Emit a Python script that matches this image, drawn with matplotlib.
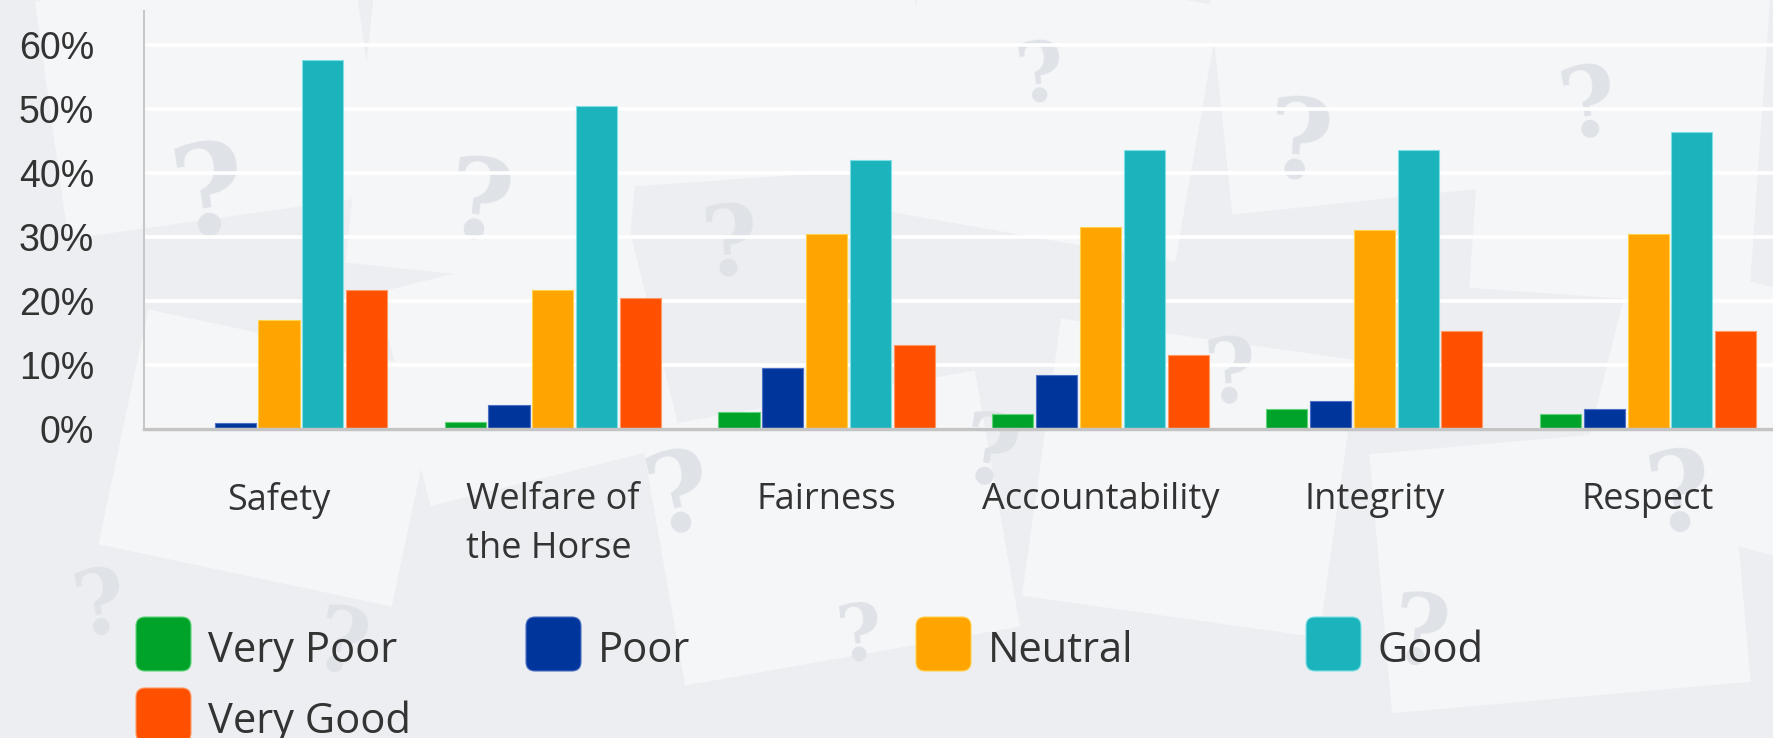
import matplotlib
matplotlib.use("Agg")
import matplotlib.pyplot as plt
from matplotlib.patches import FancyBboxPatch, Rectangle
import matplotlib.transforms as mtransforms
import numpy as np

# data (percent of respondents)
categories = ["Safety", "Welfare of\nthe Horse", "Fairness", "Accountability", "Integrity", "Respect"]
series = ["Very Poor", "Poor", "Neutral", "Good", "Very Good"]
very_poor = [0.0, 1.1, 2.7, 2.3, 3.2, 2.3]
poor = [1.0, 3.7, 9.5, 8.4, 4.4, 3.2]
neutral = [17.0, 21.7, 30.4, 31.6, 31.1, 30.4]
good = [57.7, 50.5, 42.1, 43.6, 43.6, 46.4]
very_good = [21.7, 20.5, 13.2, 11.6, 15.3, 15.3]
yticks = [0, 10, 20, 30, 40, 50, 60]

values = [very_poor, poor, neutral, good, very_good]
colors = ["#00a32a", "#00369b", "#ffa400", "#1bb3bc", "#ff5000"]
edges = ["#5fd47a", "#4d6fc4", "#ffd24d", "#7fe0e6", "#ff9a66"]

W, H = 17.73, 7.38
fig = plt.figure(figsize=(W, H), dpi=100)
fig.patch.set_facecolor("#eceef1")

# background: paper sheets and question marks (decoration)
sheets = [(0.5, 5.2, 3.2, 2.4, 8), (3.6, 4.6, 2.8, 2.9, -6), (5.8, 5.6, 3.4, 2.0, 4),
          (9.0, 5.0, 3.0, 2.6, -10), (12.2, 5.4, 3.3, 2.2, 6), (14.8, 4.4, 2.8, 3.2, -4),
          (1.2, 1.6, 3.0, 2.4, -12), (6.6, 0.8, 3.4, 2.6, 10), (10.4, 1.2, 3.0, 2.8, -8),
          (13.8, 0.4, 3.6, 2.6, 5), (4.0, 2.6, 2.6, 2.2, 14), (16.0, 2.0, 2.4, 2.6, -14)]
for sx, sy, sw, sh, ang in sheets:
    tr = mtransforms.Affine2D().rotate_deg_around(sx + sw / 2, sy + sh / 2, ang) + fig.dpi_scale_trans
    fig.patches.append(Rectangle((sx, sy), sw, sh, facecolor="#f5f6f8", edgecolor="none",
                                 transform=tr, zorder=-3))
qmarks = [(2.1, 5.4, 90, 8), (4.8, 5.3, 80, -6), (7.3, 4.9, 70, 4), (13.0, 5.9, 80, -4),
          (15.9, 6.3, 70, 10), (10.4, 6.6, 60, 6), (6.8, 2.4, 80, 12),
          (9.9, 2.8, 70, -8), (12.3, 3.6, 64, 4), (14.2, 1.0, 70, -6), (16.8, 2.4, 80, 8),
          (3.4, 0.9, 64, -12), (8.6, 1.0, 56, 6), (1.0, 1.3, 64, 10)]
for qx, qy, qs, ang in qmarks:
    fig.text(qx / W, qy / H, "?", fontsize=qs, family="DejaVu Serif", weight="bold",
             color="#dfe2e7", rotation=ang, ha="center", va="center", zorder=-2)

ax = fig.add_axes([144 / 1773, 309 / 738, 1629 / 1773, 418 / 738])
ax.set_facecolor("none")

x = np.arange(len(categories))
step = 0.16
bw = 0.15
for i, (name, vals) in enumerate(zip(series, values)):
    ax.bar(x + (i - 2) * step, vals, width=bw, color=colors[i], edgecolor=edges[i],
           linewidth=0.8, label=name, zorder=3)

ax.set_xlim(-0.493, 5.456)
ax.set_ylim(0, 65.3)
ax.set_yticks(yticks)
ax.set_yticklabels([f"{t}%" for t in yticks], family="Liberation Sans", fontsize=27, color="#333333")
ax.yaxis.grid(True, color="white", linewidth=2.6, zorder=1)
ax.set_axisbelow(True)
ax.tick_params(axis="y", length=0, pad=36)
ax.tick_params(axis="x", length=0, pad=38)
ax.set_xticks(x)
ax.set_xticklabels(categories, family="Open Sans", fontsize=26, color="#333333")
for lab in ax.get_xticklabels():
    lab.set_multialignment("left")
    lab.set_linespacing(1.5)

for s in ["top", "right"]:
    ax.spines[s].set_visible(False)
ax.spines["left"].set_color("#c8c8c8")
ax.spines["left"].set_linewidth(1.5)
ax.spines["bottom"].set_color("#c4c4c4")
ax.spines["bottom"].set_linewidth(2.5)
ax.spines["bottom"].set_zorder(4)

# legend: rounded squares in 4 equal columns
for i, name in enumerate(series):
    col, row = i % 4, i // 4
    left = 1.36 + col * 3.90
    bottom = 0.67 - row * 0.71
    fig.patches.append(FancyBboxPatch((left, bottom), 0.55, 0.54,
                                      boxstyle="round,pad=0,rounding_size=0.09",
                                      facecolor=colors[i], edgecolor=edges[i], linewidth=0.8,
                                      transform=fig.dpi_scale_trans, zorder=2))
    fig.text(left + 0.72, bottom + 0.09, name, family="Open Sans", fontsize=30,
             color="#333333", ha="left", va="baseline",
             transform=fig.dpi_scale_trans)

fig.savefig("out.png", dpi=100, facecolor=fig.get_facecolor())
